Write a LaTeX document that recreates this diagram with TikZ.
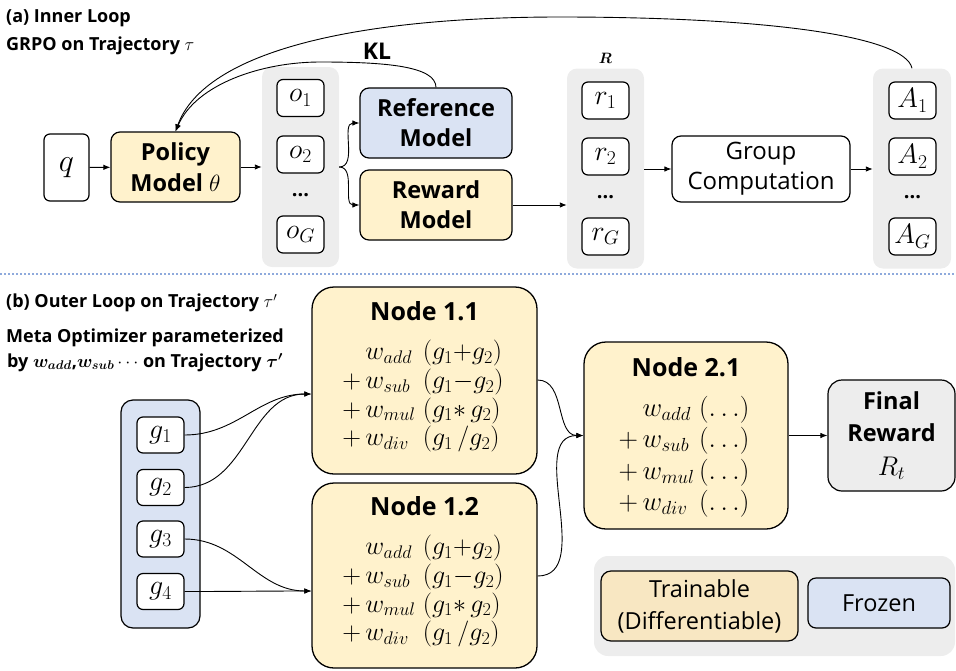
\documentclass[tikz,border=0pt]{standalone}
\usepackage{fix-cm}
\usepackage{bm}
\usepackage{fontspec}
\setmainfont{Open Sans}
\usetikzlibrary{arrows.meta,calc}
\definecolor{ylw}{HTML}{FFF2CC}
\definecolor{blu}{HTML}{DAE3F3}
\definecolor{gry}{HTML}{EDEDED}
\definecolor{lgd}{HTML}{F8E7C2}
\definecolor{sep}{HTML}{8FAADC}

\begin{document}
\begin{tikzpicture}[x=1pt,y=-1pt,
  box/.style={draw=black, line width=1.2pt, rounded corners=6pt, inner sep=0pt, align=center},
  cell/.style={box, minimum width=47pt, minimum height=37pt, fill=white, font=\fontsize{28}{30}\selectfont},
  col/.style={fill=gry, rounded corners=10pt, inner sep=0pt, minimum width=77pt, minimum height=200pt},
  model/.style={box, rounded corners=9pt, minimum width=152pt, minimum height=70pt, font=\bfseries\fontsize{23.5}{30}\selectfont},
  big/.style={box, line width=1.3pt, rounded corners=22pt, fill=ylw},
  ttl/.style={font=\bfseries\fontsize{25}{28}\selectfont, inner sep=0pt},
  head/.style={font=\bfseries\fontsize{18}{20}\selectfont, inner sep=0pt, anchor=west},
  arr/.style={-{Latex[length=7pt,width=5.5pt]}, line width=0.9pt},
  dotsym/.style={font=\bfseries\fontsize{20}{22}\selectfont, inner sep=0pt},
  eqs/.style={inner sep=0pt, font=\fontsize{26}{28.6}\selectfont}
]
\useasboundingbox (0,0) rectangle (956,670);

% ---------------- inner loop ----------------
\node[head] (ta) at (6,18) {(a) Inner Loop};
\node[head] (tg) at (6,46) {GRPO on Trajectory $\tau$};

\node[box, fill=white, minimum width=45pt, minimum height=67pt, font=\fontsize{32}{34}\selectfont] (q) at (66.5,167.5) {$q$};
\node[box, fill=ylw, rounded corners=9pt, minimum width=129pt, minimum height=70pt, font=\bfseries\fontsize{23.5}{31}\selectfont] (policy) at (175.5,167) {Policy\\Model $\theta$};

% sampled outputs
\node[col] (ocol) at (300.5,167) {};
\node[cell] (o1) at (300.5,98) {$o_1$};
\node[cell] (o2) at (300.5,154.5) {$o_2$};
\node[dotsym] (od) at (300.5,195) {...};
\node[cell] (oG) at (300.5,234.5) {$o_G$};

\node[model, fill=blu] (ref) at (436,123) {Reference\\Model};
\node[model, fill=ylw] (rew) at (436,205) {Reward\\Model};

% rewards
\node[col] (rcol) at (605.5,168.5) {};
\node[font=\fontsize{15}{16}\selectfont, inner sep=0pt] (rlab) at (605.5,58) {$\bm{R}$};
\node[cell] (r1) at (605.5,100.5) {$r_1$};
\node[cell] (r2) at (605.5,156.5) {$r_2$};
\node[dotsym] (rd) at (605.5,197) {...};
\node[cell] (rG) at (605.5,236.5) {$r_G$};

\node[box, fill=white, rounded corners=9pt, minimum width=178pt, minimum height=66pt, font=\fontsize{24}{30}\selectfont] (grp) at (761,169) {Group\\Computation};

% advantages
\node[col, minimum width=78pt] (acol) at (912,168.5) {};
\node[cell] (a1) at (912.5,100.5) {$A_1$};
\node[cell] (a2) at (912.5,156.5) {$A_2$};
\node[dotsym] (ad) at (912.5,197) {...};
\node[cell] (aG) at (912.5,236.5) {$A_G$};

\node[font=\bfseries\fontsize{23}{24}\selectfont, inner sep=0pt] (kl) at (377,51) {KL};

% connectors
\draw[arr] (q) -- (policy);
\draw[arr] (policy) -- (ocol);
\draw[arr] (ocol.east) to[out=0,in=180] (ref.west);
\draw[arr] (ocol.east) to[out=0,in=180] (rew.west);
\draw[arr] (rew.east) -- (rew.east -| rcol.west);
\draw[arr] (grp.west -| rcol.east) -- (grp.west);
\draw[arr] (grp.east) -- (grp.east -| acol.west);
\draw[arr] (ref.north) .. controls (436,66) and (385,62) .. (320,62)
                       .. controls (262,62) and (196,84) .. (policy.north);
\draw[arr] (acol.north) .. controls (905,35) and (760,17) .. (560,17)
                        .. controls (360,17) and (205,50) .. (policy.north);

% separator
\draw[sep, line width=1.3pt, dash pattern=on 2pt off 2pt] (0,274) -- (956,274);

% ---------------- outer loop ----------------
\node[head] (tb) at (6,303) {(b) Outer Loop on Trajectory $\tau'$};
\node[font=\bfseries\fontsize{18}{25}\selectfont, inner sep=0pt, align=center] (meta) at (145,350)
  {Meta Optimizer parameterized\\by $\bm{w_{add}}$,$\bm{w_{sub}}\cdots$ on Trajectory $\bm{\tau'}$};

\node[box, fill=blu, rounded corners=12pt, minimum width=79pt, minimum height=228pt] (gcol) at (160.5,514) {};
\node[cell, minimum height=36pt] (g1) at (160.5,435) {$g_1$};
\node[cell, minimum height=36pt] (g2) at (160.5,487.5) {$g_2$};
\node[cell, minimum height=36pt] (g3) at (160.5,539) {$g_3$};
\node[cell, minimum height=36pt] (g4) at (160.5,591.5) {$g_4$};

\node[big, minimum width=225pt, minimum height=187pt] (n11) at (424.5,380.5) {};
\node[ttl] (n11t) at (424.5,311) {Node 1.1};
\node[eqs] (n11e) at (423,397) {%
  \begin{tabular}{@{}r@{\,}l@{\;}l@{}}
    & $w_{add}$ & $(g_1{+}g_2)$\\
    $+$ & $w_{sub}$ & $(g_1{-}g_2)$\\
    $+$ & $w_{mul}$ & $(g_1{*}\,g_2)$\\
    $+$ & $w_{div}$ & $(g_1\,/g_2)$
  \end{tabular}};

\node[big, minimum width=225pt, minimum height=185pt] (n12) at (424.5,575.5) {};
\node[ttl] (n12t) at (424.5,506) {Node 1.2};
\node[eqs] (n12e) at (423,592) {%
  \begin{tabular}{@{}r@{\,}l@{\;}l@{}}
    & $w_{add}$ & $(g_1{+}g_2)$\\
    $+$ & $w_{sub}$ & $(g_1{-}g_2)$\\
    $+$ & $w_{mul}$ & $(g_1{*}\,g_2)$\\
    $+$ & $w_{div}$ & $(g_1\,/g_2)$
  \end{tabular}};

\node[big, minimum width=204pt, minimum height=187pt] (n21) at (686,435.5) {};
\node[ttl] (n21t) at (686,367) {Node 2.1};
\node[eqs, font=\fontsize{27}{31.5}\selectfont] (n21e) at (684,457) {%
  \begin{tabular}{@{}r@{\,}l@{\,}l@{}}
    & $w_{add}$ & $(\ldots)$\\
    $+$ & $w_{sub}$ & $(\ldots)$\\
    $+$ & $w_{mul}$ & $(\ldots)$\\
    $+$ & $w_{div}$ & $(\ldots)$
  \end{tabular}};

\node[box, fill=gry, rounded corners=14pt, minimum width=127pt, minimum height=111pt, font=\bfseries\fontsize{23.5}{32}\selectfont] (fin) at (891.5,435.5) {Final\\Reward\\[2pt]\mdseries\fontsize{27}{28}\selectfont$R_t$};

% legend
\node[fill=gry, rounded corners=14pt, minimum width=361pt, minimum height=100pt, inner sep=0pt] (lgbg) at (774.5,606) {};
\node[box, fill=lgd, rounded corners=10pt, minimum width=197pt, minimum height=70pt, font=\fontsize{23.5}{32}\selectfont] (train) at (699.5,606) {Trainable\\(Differentiable)};
\node[box, fill=blu, rounded corners=8pt, minimum width=142pt, minimum height=50pt, font=\fontsize{23.5}{26}\selectfont] (frozen) at (879,603) {Frozen};

% outer connectors
\draw[arr] (g1.east) to[out=0,in=180] (n11.west |- 0,394);
\draw[arr] (g2.east) to[out=0,in=180] (n11.west |- 0,394);
\draw[arr] (g3.east) to[out=0,in=180] (n12.west |- 0,591);
\draw[arr] (g4.east) to[out=0,in=180] (n12.west |- 0,591);
\draw[arr] (n11.east |- 0,380) to[out=0,in=180] (n21.west);
\draw[arr] (n12.east |- 0,576) to[out=0,in=180] (n21.west);
\draw[arr] (n21.east) -- (fin.west);
\end{tikzpicture}
\end{document}
